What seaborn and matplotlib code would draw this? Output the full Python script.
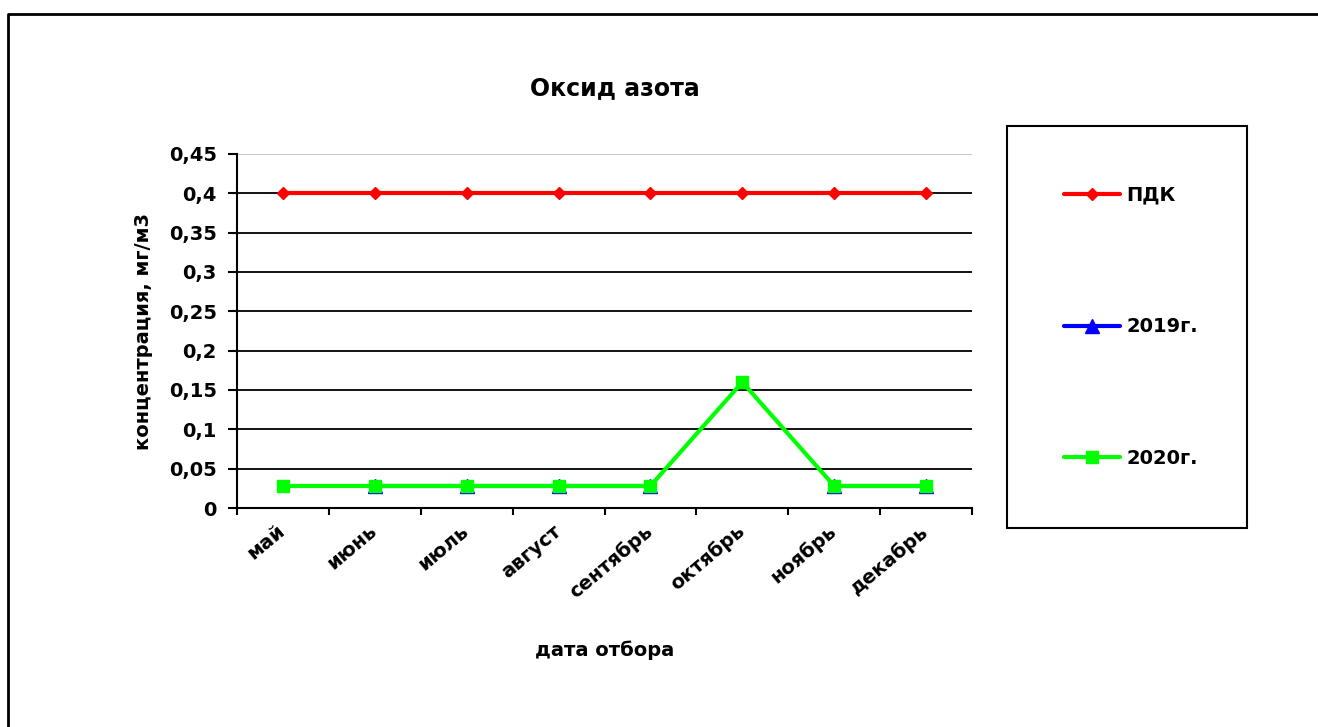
import numpy as np
import pandas as pd
import seaborn as sns
import matplotlib.pyplot as plt
from matplotlib.lines import Line2D
from matplotlib.patches import Rectangle

sns.set_style("ticks")
plt.rcParams['font.family'] = ['DejaVu Sans']
plt.rcParams['font.weight'] = 'bold'
plt.rcParams['text.color'] = 'black'
plt.rcParams['axes.labelcolor'] = 'black'
plt.rcParams['xtick.color'] = 'black'
plt.rcParams['ytick.color'] = 'black'

# data
months = ['май', 'июнь', 'июль', 'август', 'сентябрь', 'октябрь', 'ноябрь', 'декабрь']
pdk = [0.4, 0.4, 0.4, 0.4, 0.4, 0.4, 0.4, 0.4]
y2019 = [np.nan, 0.028, 0.028, 0.028, 0.028, np.nan, 0.028, 0.028]
y2020 = [0.028, 0.028, 0.028, 0.028, 0.028, 0.16, 0.028, 0.028]
y_ticks = [0, 0.05, 0.1, 0.15, 0.2, 0.25, 0.3, 0.35, 0.4, 0.45]
y_labels = ['0', '0,05', '0,1', '0,15', '0,2', '0,25', '0,3', '0,35', '0,4', '0,45']

series = [
  ('ПДК', pdk, '#ff0000', 'D', 6),
  ('2019г.', y2019, '#0000ff', '^', 10.5),
  ('2020г.', y2020, '#00ff00', 's', 9),
]


def toFrame(values):
  # split on gaps so the line is broken like in Excel
  rows = []
  seg = 0
  for i, v in enumerate(values):
    if np.isnan(v):
      seg += 1
      continue
    rows.append({'pos': i, 'value': v, 'seg': seg})
  return pd.DataFrame(rows)


fig = plt.figure(figsize=(13.18, 7.27), dpi=100)
ax = fig.add_axes([237/1318, 1-508/727, (972-237)/1318, (508-154)/727])

handles = []
for name, vals, color, marker, ms in series:
  df = toFrame(vals)
  sns.lineplot(data=df, x='pos', y='value', units='seg', estimator=None,
               color=color, marker=marker, markersize=ms, mec=color, mew=1,
               linewidth=3, ax=ax, legend=False)
  handles.append(Line2D([], [], color=color, marker=marker, markersize=ms,
                        mec=color, linewidth=3, label=name))

ax.set_xlim(-0.5, len(months) - 0.5)
ax.set_ylim(0, 0.45)
ax.set_yticks(y_ticks)
ax.set_yticklabels(y_labels, fontsize=14, fontweight='bold')
ax.set_xticks(np.arange(len(months) + 1) - 0.5)
ax.set_xticklabels([])
ax.set_xticks(np.arange(len(months)), minor=True)
ax.set_xticklabels(months, minor=True, rotation=40, ha='right', va='center',
                   rotation_mode='anchor', fontsize=14, fontweight='bold')
ax.tick_params(axis='x', which='minor', length=0, pad=15)
ax.tick_params(axis='x', which='major', length=5, width=1.5, direction='out', color='black')
ax.tick_params(axis='y', length=6.5, width=1.5, pad=8, direction='out', color='black')

ax.grid(axis='y', color='black', linewidth=1.3)
ax.grid(axis='x', visible=False)
ax.get_ygridlines()[-1].set_color('#c0c0c0')
ax.set_axisbelow(True)
sns.despine(ax=ax)
for s in ['left', 'bottom']:
  ax.spines[s].set_linewidth(1.5)
  ax.spines[s].set_color('black')

ax.set_xlabel('дата отбора', fontsize=14, fontweight='bold')
ax.xaxis.set_label_coords(0.5, -0.375)
ax.set_ylabel('концентрация, мг/м3', fontsize=14, fontweight='bold')
ax.yaxis.set_label_coords(-0.114, 0.5)

fig.text(615/1318, 1-88/727, 'Оксид азота', ha='center', va='center',
         fontsize=17, fontweight='bold')

# legend box
fig.patches.append(Rectangle((1007/1318, 1-528/727), 240/1318, 402/727,
                             transform=fig.transFigure, fill=False,
                             edgecolor='black', linewidth=1.5))
fig.legend(handles=handles, loc='center left', bbox_to_anchor=(1064/1318, 1-327/727),
           frameon=False, prop={'weight': 'bold', 'size': 14},
           handlelength=2.9, handletextpad=0.3, labelspacing=5.8,
           borderpad=0, borderaxespad=0)

# outer frame
fig.add_artist(Line2D([8/1318, 8/1318, 1], [0, 1-14/727, 1-14/727],
                      transform=fig.transFigure, color='black', linewidth=2))

fig.savefig('out.png', dpi=100)
